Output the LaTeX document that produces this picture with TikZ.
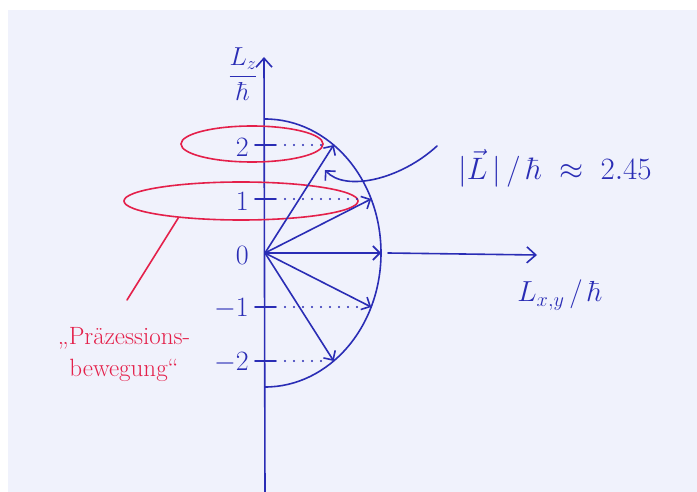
\RequirePackage{fix-cm}
\documentclass[tikz,border=0pt]{standalone}
\usepackage{amsmath}
\usepackage{fontspec}
\usetikzlibrary{arrows.meta, shapes.geometric}
\definecolor{inkA}{HTML}{2A2DB5}
\definecolor{redA}{HTML}{E4204A}
\definecolor{paperA}{HTML}{F0F2FC}
\tikzset{
  ink/.style={draw=inkA, line width=1.6pt, line cap=round, line join=round},
  vec/.style={ink, -{Straight Barb[length=7pt, width=14pt]}},
  axisarrow/.style={ink, -{Straight Barb[length=9pt, width=16pt]}},
  dots/.style={draw=inkA, line width=2.2pt, line cap=round, dash pattern=on 0pt off 9pt},
  redink/.style={draw=redA, line width=1.6pt, line cap=round},
  precring/.style={ellipse, draw=redA, line width=1.6pt, inner sep=0pt},
  lbl/.style={text=inkA, font=\fontsize{28}{32}\selectfont, inner sep=0pt},
  redlbl/.style={text=redA, font=\fontsize{25}{32}\selectfont, align=center, inner sep=0pt}
}
\begin{document}
\begin{tikzpicture}[x=1pt, y=-1pt]
  \useasboundingbox (0,0) rectangle (697,492);
  % paper
  \fill[white] (0,0) rectangle (697,492);
  \fill[paperA] (8,10) rectangle (697,492);

  % axes
  \coordinate (O) at (265,253);
  \coordinate (zbot) at (265,496);
  \coordinate (ztop) at (264,57);
  \coordinate (xstart) at (388,253);
  \coordinate (xend) at (537,255);
  \draw[axisarrow] (zbot) -- (ztop);
  \draw[axisarrow] (xstart) -- (xend);

  % precession rings (red)
  \node[precring, minimum width=142pt, minimum height=36pt] (prec1) at (252,144) {};
  \node[precring, minimum width=234pt, minimum height=38pt] (prec2) at (241,201) {};

  % |L| half circle
  \draw[ink] (265,119) arc[start angle=-90, end angle=90, x radius=116, y radius=134];

  % m = 2 ... -2
  \foreach \m in {2,1,0,-1,-2} {
    \coordinate (tick\m) at (265,{253-54*\m});
    \coordinate (tip\m) at ({265+116*sqrt(1-(54*\m/134)^2)},{253-54*\m});
    \node[lbl, anchor=east] (num\m) at (249,{255-54*\m}) {$\m$};
    \ifnum\m=0\else
      \draw[ink] ([xshift=-10pt]tick\m) -- ([xshift=11pt]tick\m);
      \draw[dots] ([xshift=20pt]tick\m) -- ([xshift=-8pt]tip\m);
    \fi
    \draw[vec] (O) -- (tip\m);
  }

  % labels
  \node[lbl, font=\fontsize{26}{30}\selectfont] (lzlab) at (243,74) {$\dfrac{L_z}{\hbar}$};
  \node[lbl, anchor=west, font=\fontsize{31}{36}\selectfont] (Llab) at (458,168)
    {$|\vec L\,|\,/\,\hbar \;\approx\; 2.45$};
  \node[lbl, font=\fontsize{29}{34}\selectfont] (lxylab) at (560,295) {$L_{x,y}\,/\,\hbar$};
  \coordinate (hookend) at (325,170);
  \draw[vec] ([shift={(-21pt,22pt)}]Llab.west) .. controls (400,180) and (345,192) .. (hookend);

  % precession label
  \coordinate (redtip) at (127,300);
  \draw[redink] (prec2.195) -- (redtip);
  \node[redlbl] (preclab) at (124,355) {„Präzessions-\\bewegung“};
\end{tikzpicture}
\end{document}
